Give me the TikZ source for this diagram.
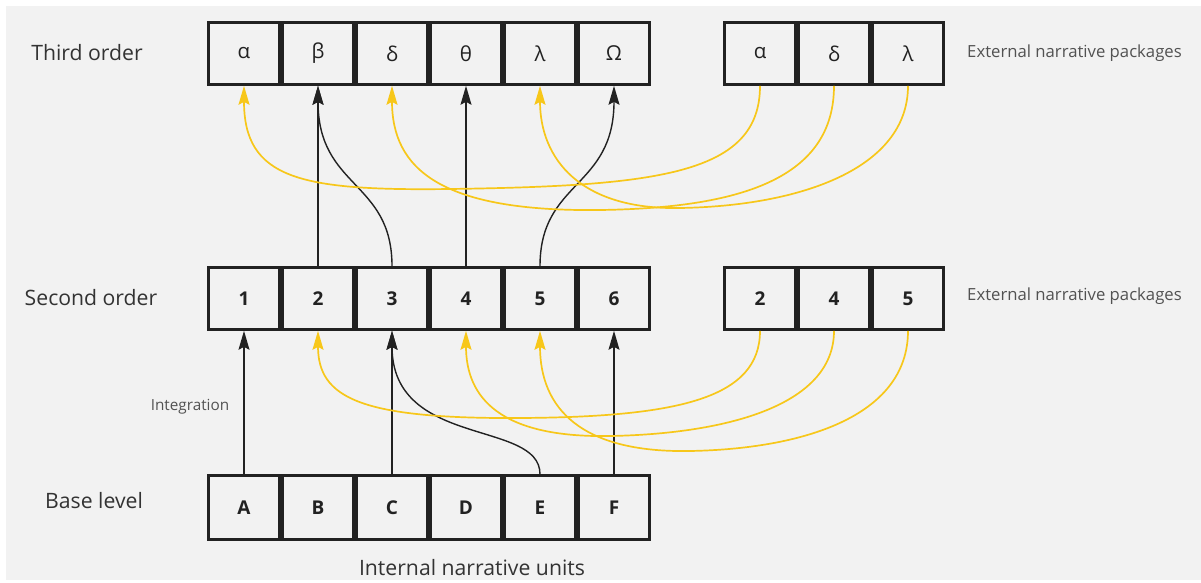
\documentclass[tikz,border=0pt]{standalone}
\usepackage{fontspec}
\setmainfont{Open Sans}
\usetikzlibrary{arrows.meta}
\definecolor{bg}{HTML}{F2F2F2}
\definecolor{boxline}{HTML}{222222}
\definecolor{ylw}{HTML}{F7C71A}
\definecolor{txt}{HTML}{333333}
\tikzset{
  unit/.style={draw=boxline, line width=2.6pt, fill=bg, minimum width=71.5pt, minimum height=62pt, inner sep=0pt, text=boxline},
  greek/.style={unit, font=\fontsize{20.5}{24}\selectfont},
  bold/.style={unit, font=\fontsize{19}{22}\selectfont\bfseries},
  lbl/.style={text=txt, inner sep=0pt, font=\fontsize{21.2}{24}\selectfont},
  small/.style={text=txt!85, inner sep=0pt, font=\fontsize{16.7}{19}\selectfont},
  blk/.style={draw=boxline, line width=1.4pt, -{Stealth[length=19pt,width=11pt,inset=3pt]}},
  yel/.style={draw=ylw, line width=1.7pt, -{Stealth[length=19pt,width=11pt,inset=3pt]}},
}
\begin{document}
\begin{tikzpicture}[x=1pt,y=-1pt]
\useasboundingbox (0,0) rectangle (1201,583);
\fill[white] (0,0) rectangle (1201,583);
\fill[bg] (6,6) rectangle (1201,580);
% third order
\foreach \n/\t [count=\i from 0] in {t1/α,t2/β,t3/δ,t4/θ,t5/λ,t6/Ω}
  \node[greek] (\n) at (244+74*\i,53.5) {\t};
\foreach \n/\t [count=\i from 0] in {te1/α,te2/δ,te3/λ}
  \node[greek] (\n) at (760+74*\i,53.5) {\t};
% second order
\foreach \n/\t [count=\i from 0] in {s1/1,s2/2,s3/3,s4/4,s5/5,s6/6}
  \node[bold] (\n) at (244+74*\i,298.5) {\t};
\foreach \n/\t [count=\i from 0] in {se1/2,se2/4,se3/5}
  \node[bold] (\n) at (760+74*\i,298.5) {\t};
% base
\foreach \n/\t [count=\i from 0] in {b1/A,b2/B,b3/C,b4/D,b5/E,b6/F}
  \node[bold, minimum height=64pt] (\n) at (244+74*\i,507.5) {\t};
% labels
\node[lbl] (l3) at (87,53) {Third order};
\node[lbl] (l2) at (91,298) {Second order};
\node[lbl] (l1) at (94,501) {Base level};
\node[small, font=\fontsize{15.3}{18}\selectfont] (lint) at (190,407) {Integration};
\node[small, anchor=west] (ext3) at (967,53) {External narrative packages};
\node[small, anchor=west] (ext2) at (967,296) {External narrative packages};
\node[lbl] (inu) at (472,568) {Internal narrative units};
% black connectors third order
\draw[blk] (s2.north) -- (t2.south);
\draw[blk] (s4.north) -- (t4.south);
\draw[blk] (s3.north) .. controls +(0,-86) and +(0,103) .. (t2.south);
\draw[blk] (s5.north) .. controls +(0,-86) and +(0,103) .. (t6.south);
% yellow connectors third order
\draw[yel] (te1.south) .. controls +(0,88) and (660,186) .. (450,189) .. controls (300,191) and ([yshift=-93pt]t1.south) .. (t1.south);
\draw[yel] (te2.south) .. controls +(0,93) and (740,208) .. (600,210) .. controls (440,212) and ([yshift=-83pt]t3.south) .. (t3.south);
\draw[yel] (te3.south) .. controls +(0,83) and (800,206) .. (680,208) .. controls (580,210) and ([yshift=-73pt]t5.south) .. (t5.south);
% black connectors second order
\draw[blk] (b1.north) -- (s1.south);
\draw[blk] (b3.north) -- (s3.south);
\draw[blk] (b6.north) -- (s6.south);
\draw[blk] (b5.north) .. controls +(0,-55) and +(0,118) .. (s3.south);
% yellow connectors second order
\draw[yel] (se1.south) .. controls +(0,67) and (680,417) .. (520,418) .. controls (360,419) and ([yshift=-67pt]s2.south) .. (s2.south);
\draw[yel] (se2.south) .. controls +(0,77) and (720,434) .. (610,436) .. controls (500,438) and ([yshift=-67pt]s4.south) .. (s4.south);
\draw[yel] (se3.south) .. controls +(0,87) and (800,449) .. (690,451) .. controls (580,453) and ([yshift=-77pt]s5.south) .. (s5.south);
\end{tikzpicture}
\end{document}
